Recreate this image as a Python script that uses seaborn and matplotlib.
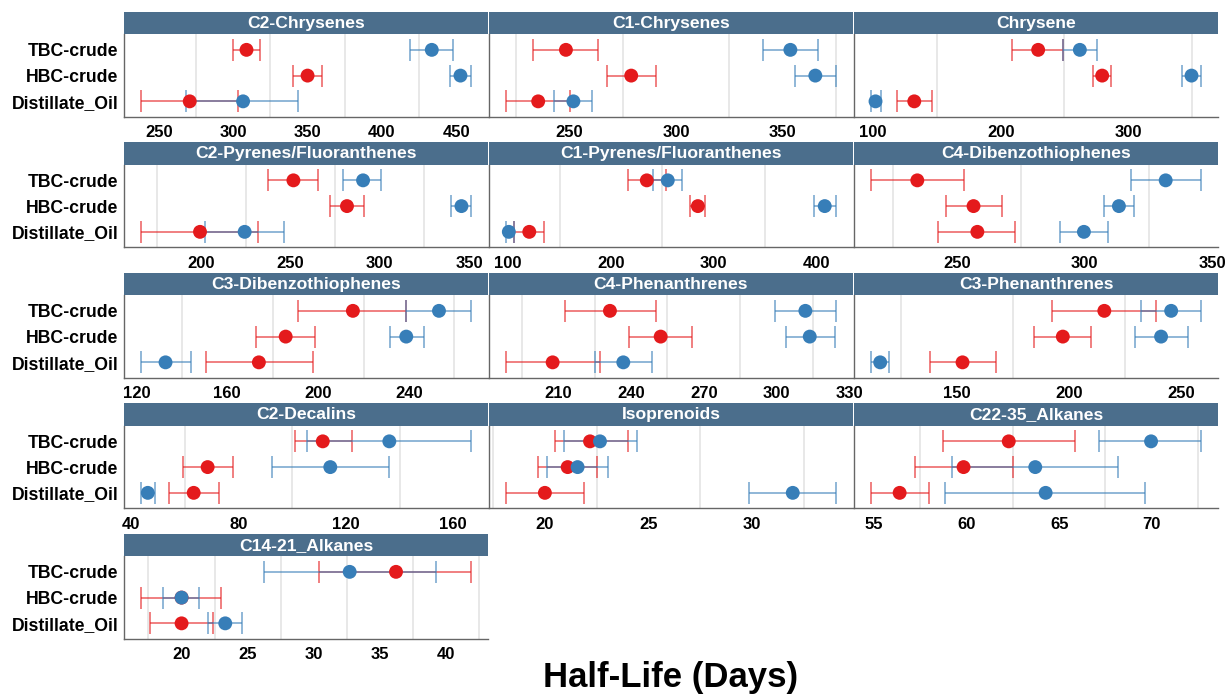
import numpy as np
import pandas as pd
import matplotlib
matplotlib.use("Agg")
import matplotlib.pyplot as plt
from matplotlib.ticker import MultipleLocator
import seaborn as sns

compounds = [
    "C2-Chrysenes", "C1-Chrysenes", "Chrysene",
    "C2-Pyrenes/Fluoranthenes", "C1-Pyrenes/Fluoranthenes", "C4-Dibenzothiophenes",
    "C3-Dibenzothiophenes", "C4-Phenanthrenes", "C3-Phenanthrenes",
    "C2-Decalins", "Isoprenoids", "C22-35_Alkanes",
    "C14-21_Alkanes",
]
oils = ["TBC-crude", "HBC-crude", "Distillate_Oil"]

# Half-life estimates (days); each row is one compound, columns follow `oils`
study1_mid = [
    [308.9, 350.0, 270.7], [248.4, 279.0, 235.4], [229.4, 279.6, 132.2],
    [251.6, 281.6, 199.3], [234.9, 284.6, 120.5], [234.5, 256.5, 258.0],
    [215.3, 185.7, 173.9], [231.3, 252.2, 207.7], [215.6, 197.1, 152.4],
    [111.4, 68.5, 63.3], [22.18, 21.10, 20.00], [62.28, 59.84, 56.39],
    [36.2, 20.0, 20.0],
]
study1_low = [
    [299.9, 340.3, 237.6], [233.1, 267.8, 220.1], [209.0, 272.5, 118.3],
    [237.4, 272.3, 166.0], [216.3, 277.1, 105.8], [216.2, 245.6, 242.6],
    [191.2, 172.7, 150.4], [212.9, 239.3, 188.3], [192.5, 184.4, 137.8],
    [101.1, 59.5, 54.0], [20.48, 19.68, 18.10], [58.74, 57.22, 54.82],
    [30.4, 16.9, 17.6],
]
study1_high = [
    [318.3, 359.4, 303.3], [263.6, 290.4, 250.3], [249.0, 286.9, 145.8],
    [265.4, 291.0, 231.8], [253.1, 291.7, 135.1], [252.7, 267.6, 272.8],
    [238.8, 198.6, 197.7], [250.3, 264.9, 227.2], [238.8, 209.8, 167.1],
    [122.3, 77.9, 72.6], [24.00, 22.53, 21.90], [65.88, 62.50, 57.98],
    [41.9, 23.0, 22.4],
]
study2_mid = [
    [433.6, 452.9, 306.6], [353.6, 365.3, 251.9], [262.1, 349.7, 101.8],
    [290.6, 345.7, 224.3], [255.3, 408.1, 100.6], [331.7, 313.4, 299.7],
    [253.2, 238.8, 132.8], [311.8, 313.6, 236.8], [245.4, 240.9, 115.7],
    [136.2, 114.2, 46.2], [22.66, 21.58, 31.97], [69.96, 63.71, 64.27],
    [32.7, 20.0, 23.3],
]
study2_low = [
    [418.8, 446.0, 268.4], [340.8, 355.9, 242.8], [249.0, 342.6, 97.9],
    [279.4, 339.7, 202.2], [241.4, 397.4, 97.4], [318.3, 307.6, 290.2],
    [238.8, 231.5, 121.8], [299.2, 304.0, 225.1], [232.0, 229.4, 111.4],
    [105.5, 92.4, 43.5], [20.92, 20.08, 29.87], [67.16, 59.19, 58.83],
    [26.2, 18.6, 22.0],
]
study2_high = [
    [448.2, 460.3, 343.9], [366.4, 375.2, 260.5], [275.2, 357.5, 105.8],
    [300.9, 351.3, 246.3], [269.6, 419.5, 105.8], [345.7, 319.3, 309.1],
    [267.5, 246.6, 144.2], [324.6, 323.8, 248.5], [258.9, 253.0, 119.6],
    [166.8, 136.2, 48.9], [24.44, 23.05, 34.08], [72.68, 68.19, 69.64],
    [39.2, 21.3, 24.6],
]

# x-axis break spacing for each facet
tick_step = [50, 50, 100, 50, 100, 50, 40, 30, 50, 40, 5, 5, 5]

studies = ["study1", "study2"]
palette = {"study1": "#E41A1C", "study2": "#377EB8"}

rows = []
for s, (mid, low, high) in zip(
    studies,
    [(study1_mid, study1_low, study1_high), (study2_mid, study2_low, study2_high)],
):
    for ci, comp in enumerate(compounds):
        for oi, oil in enumerate(oils):
            rows.append(dict(compound=comp, oil=oil, pos=oi, study=s,
                             half_life=mid[ci][oi], low=low[ci][oi], high=high[ci][oi]))
df = pd.DataFrame(rows)

sns.set_theme(style="white")
plt.rcParams["font.family"] = ["Liberation Sans", "DejaVu Sans"]

W, H = 1225, 694
fig = plt.figure(figsize=(W / 100, H / 100), dpi=100)
fig.patch.set_facecolor("white")

panel_left0 = 124
panel_w = 364
col_pitch = 365
row_pitch = 130.5
first_bottom = 116.8
panel_h = 82.4
strip_h = 22.8
axis_grey = "#666666"

for i, comp in enumerate(compounds):
    col, row = i % 3, i // 3
    left = panel_left0 + col * col_pitch
    bottom = first_bottom + row * row_pitch
    top = bottom - panel_h

    ax = fig.add_axes([left / W, 1 - bottom / H, panel_w / W, panel_h / H])
    sub = df[df["compound"] == comp]

    for s in studies:
        d = sub[sub["study"] == s]
        ax.errorbar(d["half_life"], d["pos"],
                    xerr=[d["half_life"] - d["low"], d["high"] - d["half_life"]],
                    fmt="none", ecolor=palette[s], alpha=0.6,
                    elinewidth=1.3, capsize=8.2, capthick=1.3, zorder=2)

    sns.scatterplot(data=sub, x="half_life", y="pos", hue="study",
                    hue_order=studies, palette=palette, s=100, linewidth=0,
                    legend=False, ax=ax, zorder=3)

    lo, hi = sub["low"].min(), sub["high"].max()
    pad = 0.05 * (hi - lo)
    ax.set_xlim(lo - pad, hi + pad)
    ax.set_ylim(2.6, -0.6)

    step = tick_step[i]
    ax.xaxis.set_major_locator(MultipleLocator(step))
    ax.xaxis.set_minor_locator(MultipleLocator(step / 2))
    ax.grid(False)
    ax.grid(which="minor", axis="x", color="#E6E6E6", linewidth=1.3, zorder=0)
    ax.set_axisbelow(True)

    ax.set_xlabel("")
    ax.set_ylabel("")
    ax.set_yticks(range(len(oils)))
    if col == 0:
        ax.set_yticklabels(oils, fontsize=12.7, fontweight="bold", color="black")
        ax.tick_params(axis="y", which="major", length=3, width=1, color=axis_grey, pad=1)
    else:
        ax.set_yticklabels([])
        ax.tick_params(axis="y", which="major", length=0)

    ax.tick_params(axis="x", which="major", length=3, width=1, color=axis_grey,
                   labelsize=12, pad=3, labelcolor="black")
    for lab in ax.get_xticklabels():
        lab.set_fontweight("bold")
    ax.tick_params(which="minor", length=0)

    for side in ["top", "right"]:
        ax.spines[side].set_visible(False)
    for side in ["left", "bottom"]:
        ax.spines[side].set_visible(True)
        ax.spines[side].set_color(axis_grey)
        ax.spines[side].set_linewidth(1.0)

    sax = fig.add_axes([left / W, 1 - top / H, panel_w / W, strip_h / H])
    sax.set_facecolor("#4B6E8C")
    sax.set_xticks([])
    sax.set_yticks([])
    for sp in sax.spines.values():
        sp.set_visible(False)
    sax.text(0.5, 0.48, comp, ha="center", va="center", color="white",
             fontsize=12.6, fontweight="bold", transform=sax.transAxes)

plot_center = (panel_left0 + (2 * col_pitch + panel_w) / 2) / W
fig.text(plot_center, 1 - 677 / H, "Half-Life (Days)", ha="center", va="center",
         fontsize=25, fontweight="bold", color="black")

fig.savefig("out.png", dpi=100, facecolor="white")
